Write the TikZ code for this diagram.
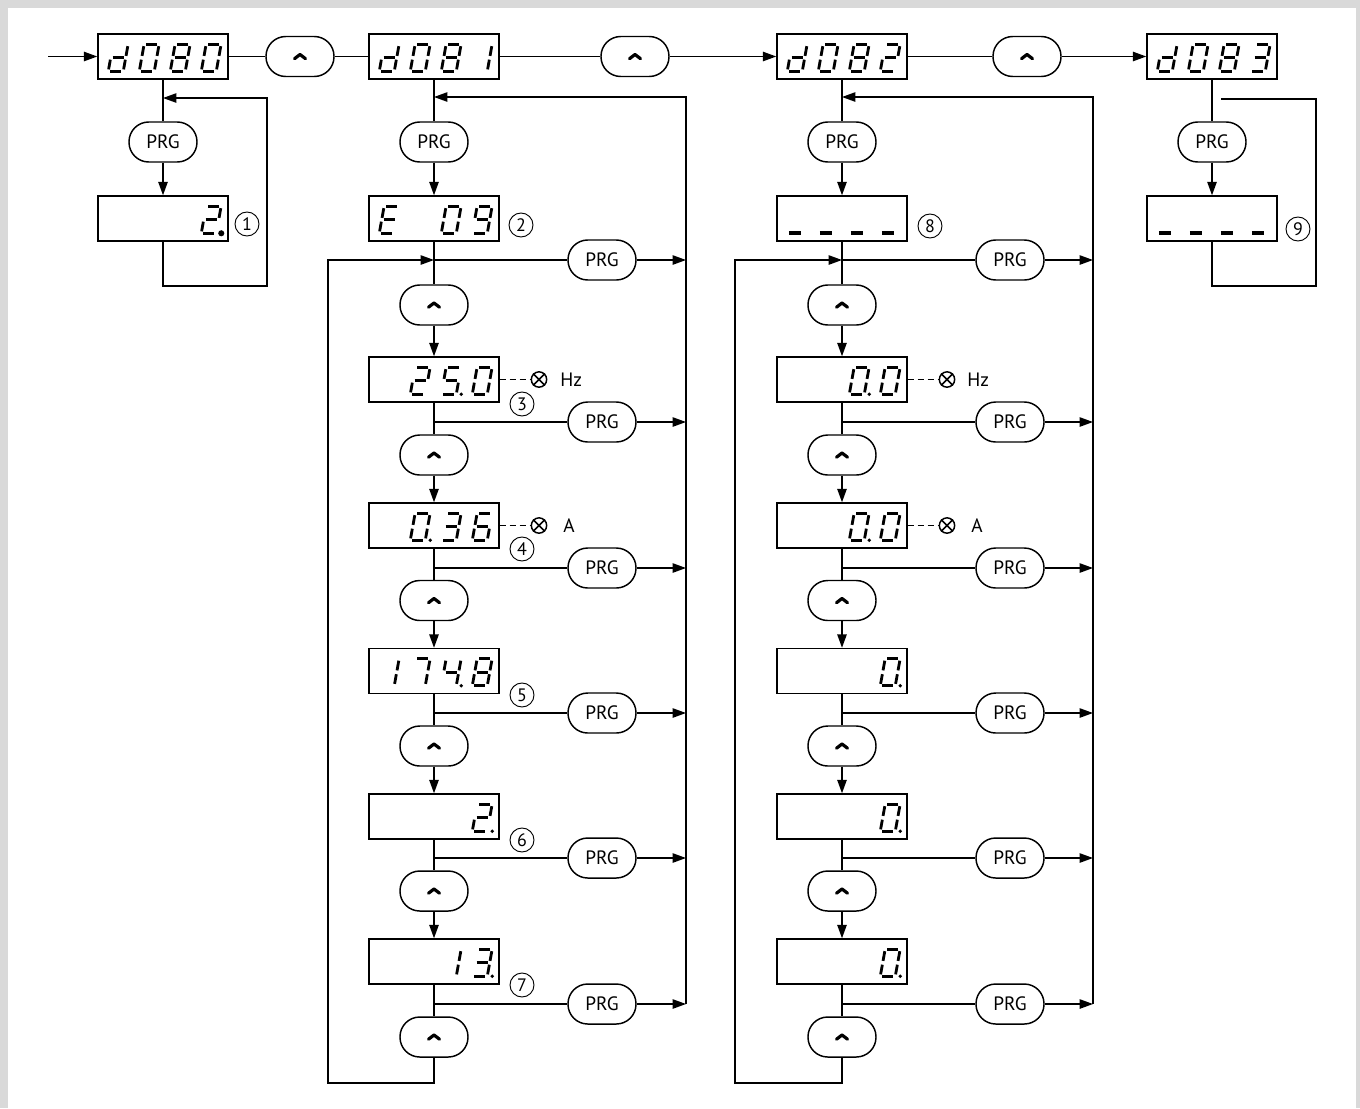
\documentclass[tikz,border=0pt]{standalone}
\usepackage{fontspec}
\setmainfont{PT Sans}
\usetikzlibrary{arrows.meta,calc}
\tikzset{
  x=0.75pt, y=-0.75pt,
  conn/.style={line width=1.1pt},
  arr/.style={line width=1.1pt,-{Triangle[length=10pt,width=7pt]}},
  dsh/.style={line width=1.1pt, dash pattern=on 4.5pt off 3pt},
  disp/.style={draw, line width=1.1pt, minimum width=97.5pt, minimum height=33.75pt, inner sep=0pt, fill=white},
  btn/.style={draw, line width=1.1pt, rounded corners=14.8pt, minimum width=51pt, minimum height=30pt, inner sep=0pt, fill=white, font=\fontsize{14.5pt}{14.5pt}\selectfont},
  cnum/.style={circle, draw, line width=0.7pt, minimum size=18pt, inner sep=0pt, font=\fontsize{13.5pt}{13.5pt}\selectfont},
  otim/.style={circle, draw, line width=1.1pt, minimum size=11.5pt, inner sep=0pt},
  unit/.style={anchor=west, inner sep=0pt, font=\fontsize{14.5pt}{14.5pt}\selectfont},
  segline/.style={line width=2.1pt, line cap=butt},
  dashseg/.style={line width=2.8pt, line cap=butt},
  caret/.pic={\draw[line width=2.4pt, line join=round, line cap=round] (-5.5,2.2)--(0,-2)--(5.5,2.2);}
}
\newcommand\segdrawa{\draw[segline] (1.9,-27)--(13.1,-27);}
\newcommand\segdrawb{\draw[segline] (15,-25.1)--(15,-15.4);}
\newcommand\segdrawc{\draw[segline] (15,-11.6)--(15,-1.9);}
\newcommand\segdrawd{\draw[segline] (1.9,0)--(13.1,0);}
\newcommand\segdrawe{\draw[segline] (0,-11.6)--(0,-1.9);}
\newcommand\segdrawf{\draw[segline] (0,-25.1)--(0,-15.4);}
\newcommand\segdrawg{\draw[segline] (1.9,-13.5)--(13.1,-13.5);}
\newcommand\segdrawu{\draw[dashseg] (1.5,0)--(13.5,0);}
\newcommand\dispdig[3]{\begin{scope}[shift={($(#1.north west)+({11+31*(#2-1)},38)$)},xslant=0.18]\foreach \s in {#3}{\csname segdraw\s\endcsname}\end{scope}}
\newcommand\dispdot[3][1.4pt]{\fill ($(#2.north west)+({11+31*(#3-1)+20},38)$) circle (#1);}
\begin{document}
\begin{tikzpicture}
\useasboundingbox (0,0) rectangle (1360,1108);
\fill[black!15] (0,0) rectangle (1360,1108);
\fill[white] (8,8) rectangle (1356,1108);

% top row
\coordinate (start) at (48,56.5);
\node[disp] (d80) at (163,56.5) {};
\node[btn] (u1) at (300,56.5) {}; \pic at (u1) {caret};
\node[disp] (d81) at (434,56.5) {};
\node[btn] (u2) at (635,56.5) {}; \pic at (u2) {caret};
\node[disp] (d82) at (842,56.5) {};
\node[btn] (u3) at (1027,56.5) {}; \pic at (u3) {caret};
\node[disp] (d83) at (1212,56.5) {};
\draw[arr] (start) -- (d80);
\draw[conn] (d80) -- (u1);
\draw[conn] (u1) -- (d81);
\draw[conn] (d81) -- (u2);
\draw[arr] (u2) -- (d82);
\draw[conn] (d82) -- (u3);
\draw[arr] (u3) -- (d83);

\dispdig{d80}{1}{b,c,d,e,g}\dispdig{d80}{2}{a,b,c,d,e,f}\dispdig{d80}{3}{a,b,c,d,e,f,g}\dispdig{d80}{4}{a,b,c,d,e,f}
\dispdig{d81}{1}{b,c,d,e,g}\dispdig{d81}{2}{a,b,c,d,e,f}\dispdig{d81}{3}{a,b,c,d,e,f,g}\dispdig{d81}{4}{b,c}
\dispdig{d82}{1}{b,c,d,e,g}\dispdig{d82}{2}{a,b,c,d,e,f}\dispdig{d82}{3}{a,b,c,d,e,f,g}\dispdig{d82}{4}{a,b,g,e,d}
\dispdig{d83}{1}{b,c,d,e,g}\dispdig{d83}{2}{a,b,c,d,e,f}\dispdig{d83}{3}{a,b,c,d,e,f,g}\dispdig{d83}{4}{a,b,g,c,d}

% column A
\node[btn] (pA) at (163,142) {PRG};
\node[disp] (A1) at (163,218.5) {};
\coordinate (jA) at (163,98);
\coordinate (cA) at (267,286);
\draw[conn] (d80) -- (pA);
\draw[arr] (pA) -- (A1);
\draw[arr] (A1.south) |- (cA) |- (jA);
\dispdig{A1}{4}{a,b,g,e,d}\dispdot[2.3pt]{A1}{4}
\node[cnum] (n1) at (247,224) {1};

% columns B and C
\foreach \c/\x/\xl/\xp/\xr in {B/434/328/602/686, C/842/735/1010/1093}{
  \foreach \i/\yb/\yj/\yu in {0/218.5/260/305, 1/379.5/422/455, 2/525.5/568/600.5, 3/671/713/746, 4/816.5/858/891, 5/961.5/1004/1037}{
    \node[disp] (\c\i) at (\x,\yb) {};
    \coordinate (j\c\i) at (\x,\yj);
    \node[btn] (u\c\i) at (\x,\yu) {};
    \pic at (u\c\i) {caret};
    \node[btn] (p\c\i) at (\xp,\yj) {PRG};
    \coordinate (r\c\i) at (\xr,\yj);
    \draw[conn] (\c\i) -- (u\c\i);
    \draw[conn] (j\c\i) -- (p\c\i);
    \draw[arr] (p\c\i) -- (r\c\i);
  }
  \foreach \i [evaluate=\i as \n using int(\i+1)] in {0,...,4}{
    \draw[arr] (u\c\i) -- (\c\n);
  }
  \node[btn] (pt\c) at (\x,142) {PRG};
  \coordinate (top\c) at (\x,97);
  \coordinate (bot\c) at (\xl,1083);
  \draw[arr] (pt\c) -- (\c0);
  \draw[arr] (u\c5.south) |- (bot\c) |- (j\c0);
  \draw[arr] (r\c5) |- (top\c);
}
\draw[conn] (d81) -- (ptB);
\draw[conn] (d82) -- (ptC);

% column B contents
\dispdig{B0}{1}{a,d,e,f,g}\dispdig{B0}{3}{a,b,c,d,e,f}\dispdig{B0}{4}{a,b,c,d,f,g}
\dispdig{B1}{2}{a,b,g,e,d}\dispdig{B1}{3}{a,f,g,c,d}\dispdot{B1}{3}\dispdig{B1}{4}{a,b,c,d,e,f}
\dispdig{B2}{2}{a,b,c,d,e,f}\dispdot{B2}{2}\dispdig{B2}{3}{a,b,g,c,d}\dispdig{B2}{4}{a,f,g,e,d,c}
\dispdig{B3}{1}{b,c}\dispdig{B3}{2}{a,b,c}\dispdig{B3}{3}{f,g,b,c}\dispdot{B3}{3}\dispdig{B3}{4}{a,b,c,d,e,f,g}
\dispdig{B4}{4}{a,b,g,e,d}\dispdot{B4}{4}
\dispdig{B5}{3}{b,c}\dispdig{B5}{4}{a,b,g,c,d}\dispdot{B5}{4}
\node[cnum] (n2) at (521,225) {2};
\node[cnum] (n3) at (522,404) {3};
\node[cnum] (n4) at (522,549) {4};
\node[cnum] (n5) at (522,695) {5};
\node[cnum] (n6) at (522,840) {6};
\node[cnum] (n7) at (522,985) {7};
\node[otim] (oB1) at (539,379.5) {};
\node[otim] (oB2) at (539,525.5) {};
\draw[dsh] (B1.east) -- (oB1.west);
\draw[dsh] (B2.east) -- (oB2.west);
\draw[conn] (oB1.north west) -- (oB1.south east) (oB1.north east) -- (oB1.south west);
\draw[conn] (oB2.north west) -- (oB2.south east) (oB2.north east) -- (oB2.south west);
\node[unit] (hzB) at (560,379.5) {Hz};
\node[unit] (aB) at (563,525.5) {A};

% column C contents
\dispdig{C0}{1}{u}\dispdig{C0}{2}{u}\dispdig{C0}{3}{u}\dispdig{C0}{4}{u}
\dispdig{C1}{3}{a,b,c,d,e,f}\dispdot{C1}{3}\dispdig{C1}{4}{a,b,c,d,e,f}
\dispdig{C2}{3}{a,b,c,d,e,f}\dispdot{C2}{3}\dispdig{C2}{4}{a,b,c,d,e,f}
\dispdig{C3}{4}{a,b,c,d,e,f}\dispdot{C3}{4}
\dispdig{C4}{4}{a,b,c,d,e,f}\dispdot{C4}{4}
\dispdig{C5}{4}{a,b,c,d,e,f}\dispdot{C5}{4}
\node[cnum] (n8) at (930,226) {8};
\node[otim] (oC1) at (947,379.5) {};
\node[otim] (oC2) at (947,525.5) {};
\draw[dsh] (C1.east) -- (oC1.west);
\draw[dsh] (C2.east) -- (oC2.west);
\draw[conn] (oC1.north west) -- (oC1.south east) (oC1.north east) -- (oC1.south west);
\draw[conn] (oC2.north west) -- (oC2.south east) (oC2.north east) -- (oC2.south west);
\node[unit] (hzC) at (967,379.5) {Hz};
\node[unit] (aC) at (971,525.5) {A};

% column D
\node[btn] (pD) at (1212,142) {PRG};
\node[disp] (D1) at (1212,218.5) {};
\coordinate (tD) at (1221,99);
\coordinate (cD) at (1316,286);
\draw[conn] (d83) -- (pD);
\draw[arr] (pD) -- (D1);
\draw[conn] (D1.south) |- (cD) |- (tD);
\dispdig{D1}{1}{u}\dispdig{D1}{2}{u}\dispdig{D1}{3}{u}\dispdig{D1}{4}{u}
\node[cnum] (n9) at (1298,229) {9};
\end{tikzpicture}
\end{document}
